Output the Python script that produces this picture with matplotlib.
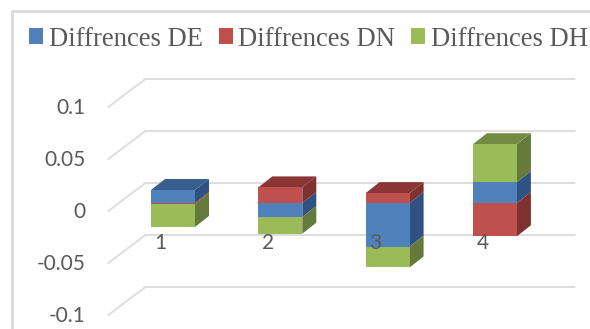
import matplotlib
matplotlib.use("Agg")
import matplotlib.pyplot as plt
from matplotlib.lines import Line2D
from matplotlib.patches import Patch, Polygon

categories = [1, 2, 3, 4]
series_names = ["Diffrences DE", "Diffrences DN", "Diffrences DH"]
diff_de = [0.0125, -0.0135, -0.042, 0.02]
diff_dn = [-0.001, 0.015, 0.0095, -0.032]
diff_dh = [-0.022, -0.016, -0.02, 0.0365]
y_ticks = [0.1, 0.05, 0, -0.05, -0.1]
y_tick_labels = ["0.1", "0.05", "0", "-0.05", "-0.1"]

FRONT = ["#4F81BD", "#C0504D", "#9BBB59"]
SIDE = ["#2F5282", "#7E3230", "#64793A"]
TOP = ["#3A5F8E", "#8B3634", "#738C42"]
GRID = "#DEDEDE"
TEXT = "#595959"

W, H = 590, 329
PX_PER_CAT = 107.3
PX_PER_UNIT = 1040.0
X0_PX, Y0_PX = 173.0, 203.0


def px_x(n):
    return n / PX_PER_CAT


def px_y(n):
    return n / PX_PER_UNIT


fig = plt.figure(figsize=(W / 100, H / 100), dpi=100, facecolor="white")
ax = fig.add_axes([0, 0, 1, 1])
ax.set_xlim(1 - X0_PX / PX_PER_CAT, 1 + (W - X0_PX) / PX_PER_CAT)
ax.set_ylim((Y0_PX - H) / PX_PER_UNIT, Y0_PX / PX_PER_UNIT)
ax.axis("off")

# Outer chart frame along the left and top edges
fig.add_artist(Line2D([11.5 / W, 11.5 / W, 1], [0, 1 - 10.5 / H, 1 - 10.5 / H],
                      color="#D9D9D9", lw=2.0, transform=fig.transFigure))

# Floor-style gridlines: back wall plus a receding segment at each tick
left = categories[0] - 0.5
right = categories[-1] + 0.5
for tick, label in zip(y_ticks, y_tick_labels):
    back = tick + px_y(20)
    front = tick - px_y(8)
    ax.plot([left - px_x(11), left + px_x(26), right + px_x(26)],
            [front, back, back], color=GRID, lw=1.4, zorder=1,
            solid_joinstyle="miter")
    ax.text(left - px_x(11 + 23), front - px_y(1), label, ha="right", va="center",
            family="Lato", fontsize=15, color=TEXT, zorder=6)

# Stacked 3D columns: positives build up from zero, negatives build down
bar_w = 44 / PX_PER_CAT
depth_x, depth_y = px_x(14), px_y(11)
for i, cat in enumerate(categories):
    pos, neg = 0.0, 0.0
    top_value, top_color = None, None
    x0, x1 = cat - bar_w / 2, cat + bar_w / 2
    for s, values in enumerate([diff_de, diff_dn, diff_dh]):
        v = values[i]
        if v >= 0:
            bottom, pos = pos, pos + v
            upper = pos
            if top_value is None or upper > top_value:
                top_value, top_color = upper, TOP[s]
        else:
            neg = neg + v
            bottom, upper = neg, neg - v
        ax.bar(cat, upper - bottom, bottom=bottom, width=bar_w, color=FRONT[s],
               linewidth=0, zorder=4)
        ax.add_patch(Polygon([(x1, bottom), (x1 + depth_x, bottom + depth_y),
                              (x1 + depth_x, upper + depth_y), (x1, upper)],
                             facecolor=SIDE[s], edgecolor="none", zorder=3))
    ax.add_patch(Polygon([(x0, top_value), (x1, top_value),
                          (x1 + depth_x, top_value + depth_y),
                          (x0 + depth_x, top_value + depth_y)],
                         facecolor=top_color, edgecolor="none", zorder=3))
    ax.text(cat - px_x(12.5), -px_y(40), str(cat), ha="center", va="center",
            family="Lato", fontsize=15, color=TEXT, zorder=6)

handles = [Patch(facecolor=c, edgecolor="none", label=n)
           for c, n in zip(FRONT, series_names)]
ax.legend(handles=handles, loc="upper left", bbox_to_anchor=(29 / W, 1 - 26.5 / H),
          bbox_transform=fig.transFigure, ncol=3, frameon=False,
          prop={"family": "Liberation Serif", "size": 19.2}, labelcolor=TEXT,
          borderpad=0, borderaxespad=0, handlelength=0.52, handleheight=0.52,
          handletextpad=0.22, columnspacing=0.6)

fig.savefig("out.png", dpi=100)
